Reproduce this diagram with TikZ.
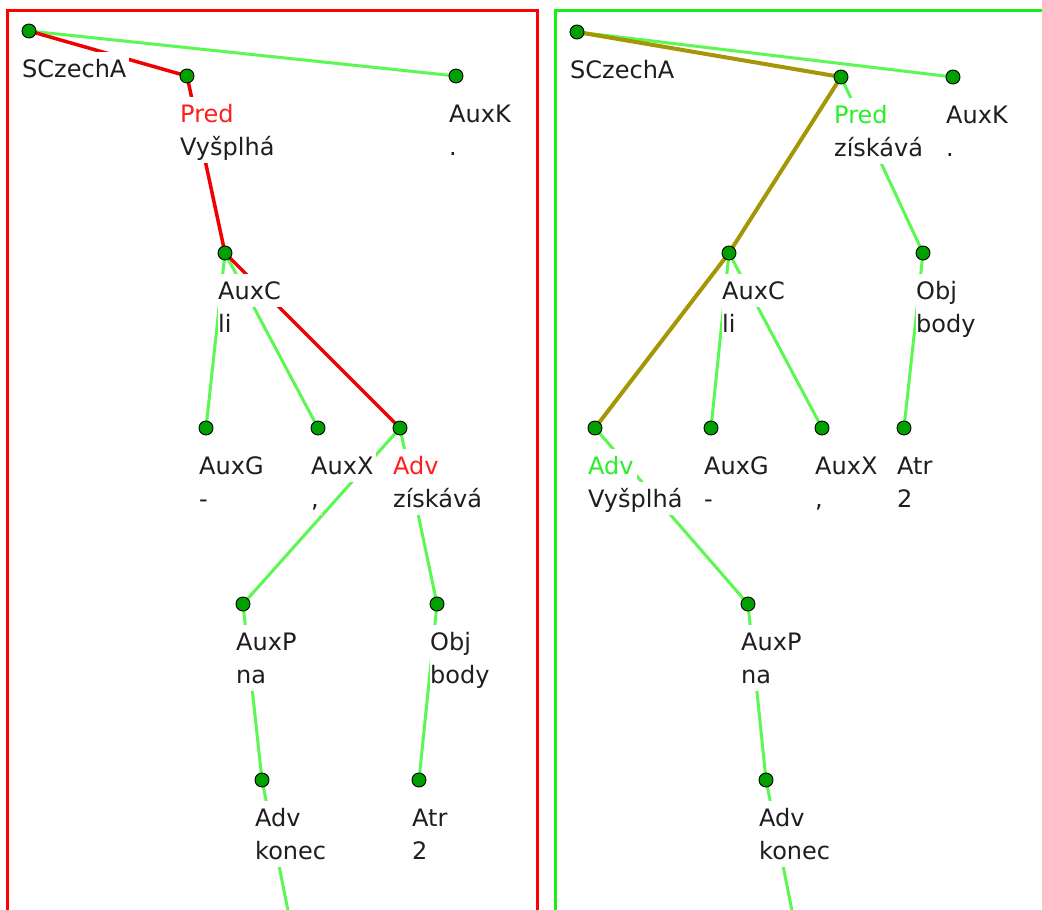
\documentclass[tikz,border=0pt]{standalone}
\usepackage{fontspec}
\setmainfont{DejaVu Sans}
\usetikzlibrary{backgrounds}

\definecolor{edgegreen}{RGB}{90,248,80}
\definecolor{edgered}{RGB}{240,0,0}
\definecolor{edgeolive}{RGB}{165,150,5}
\definecolor{dotgreen}{RGB}{0,160,0}
\definecolor{ink}{RGB}{30,30,30}
\definecolor{labred}{RGB}{255,30,30}
\definecolor{labgreen}{RGB}{40,240,40}
\definecolor{framered}{RGB}{255,0,0}
\definecolor{framegreen}{RGB}{20,240,20}

\pgfdeclarelayer{canvas}
\pgfsetlayers{canvas,background,main}

\tikzset{
  dot/.style={circle, fill=dotgreen, draw=black, line width=0.9pt, minimum size=14pt, inner sep=0pt},
  lab/.style={fill=white, text=ink, anchor=base west, inner xsep=0.5pt, inner ysep=0pt,
    text height=25pt, text depth=8pt, font=\fontsize{24}{33}\selectfont},
  plain/.style={draw=edgegreen, line width=3pt},
  hired/.style={draw=edgered, line width=3.5pt},
  hiolive/.style={draw=edgeolive, line width=4pt},
}

% a tree node: name, x, y, colour of function label, function label, word form
\newcommand\tnode[6]{%
  \node[dot] (#1) at (#2,#3) {};
  \node[lab, text=#4] (#1-fn) at (#2-7.5,#3+46) {#5\kern2.5pt};
  \node[lab] (#1-wf) at (#2-7.5,#3+79) {#6\kern2.5pt};
}
% the root carries a single label
\newcommand\troot[4]{%
  \node[dot] (#1) at (#2,#3) {};
  \node[lab] (#1-fn) at (#2-7.5,#3+46) {#4\kern2.5pt};
}

\begin{document}
\begin{tikzpicture}[x=1pt, y=-1pt]
  \useasboundingbox (0,0) rectangle (1042,910);
  \clip (0,0) rectangle (1042,910);
  \begin{pgfonlayer}{canvas}
    \fill[white] (0,0) rectangle (1042,910);
  \end{pgfonlayer}

  % ---- left tree ----
  \troot{La}{29}{31}{SCzechA}
  \tnode{Lpred}{187}{76}{labred}{Pred}{Vyšplhá}
  \tnode{Lauxk}{456}{76}{ink}{AuxK}{.}
  \tnode{Lauxc}{225}{253}{ink}{AuxC}{li}
  \tnode{Lauxg}{206}{428}{ink}{AuxG}{-}
  \tnode{Lauxx}{318}{428}{ink}{AuxX}{,}
  \tnode{Ladv}{400}{428}{labred}{Adv}{získává}
  \tnode{Lauxp}{243}{604}{ink}{AuxP}{na}
  \tnode{Lobj}{437}{604}{ink}{Obj}{body}
  \tnode{Lkon}{262}{780}{ink}{Adv}{konec}
  \tnode{Latr}{419}{780}{ink}{Atr}{2}
  \coordinate (Lnext) at (297,956);

  % ---- right tree ----
  \troot{Ra}{577}{32}{SCzechA}
  \tnode{Rpred}{841}{77}{labgreen}{Pred}{získává}
  \tnode{Rauxk}{953}{77}{ink}{AuxK}{.}
  \tnode{Rauxc}{729}{253}{ink}{AuxC}{li}
  \tnode{Robj}{923}{253}{ink}{Obj}{body}
  \tnode{Radv}{595}{428}{labgreen}{Adv}{Vyšplhá}
  \tnode{Rauxg}{711}{428}{ink}{AuxG}{-}
  \tnode{Rauxx}{822}{428}{ink}{AuxX}{,}
  \tnode{Ratr}{904}{428}{ink}{Atr}{2}
  \tnode{Rauxp}{748}{604}{ink}{AuxP}{na}
  \tnode{Rkon}{766}{780}{ink}{Adv}{konec}
  \coordinate (Rnext) at (801,956);

  \begin{pgfonlayer}{background}
    % left tree edges
    \draw[plain] (La.center) -- (Lauxk.center);
    \draw[hired] (La.center) -- (Lpred.center);
    \draw[hired] (Lpred.center) -- (Lauxc.center);
    \draw[plain] (Lauxc.center) -- (Lauxg.center);
    \draw[plain] (Lauxc.center) -- (Lauxx.center);
    \draw[hired] (Lauxc.center) -- (Ladv.center);
    \draw[plain] (Ladv.center) -- (Lauxp.center);
    \draw[plain] (Ladv.center) -- (Lobj.center);
    \draw[plain] (Lauxp.center) -- (Lkon.center);
    \draw[plain] (Lobj.center) -- (Latr.center);
    \draw[plain] (Lkon.center) -- (Lnext);
    % right tree edges
    \draw[plain] (Ra.center) -- (Rauxk.center);
    \draw[hiolive] (Ra.center) -- (Rpred.center);
    \draw[hiolive] (Rpred.center) -- (Rauxc.center);
    \draw[hiolive] (Rauxc.center) -- (Radv.center);
    \draw[plain] (Rpred.center) -- (Robj.center);
    \draw[plain] (Rauxc.center) -- (Rauxg.center);
    \draw[plain] (Rauxc.center) -- (Rauxx.center);
    \draw[plain] (Robj.center) -- (Ratr.center);
    \draw[plain] (Radv.center) -- (Rauxp.center);
    \draw[plain] (Rauxp.center) -- (Rkon.center);
    \draw[plain] (Rkon.center) -- (Rnext);
  \end{pgfonlayer}

  % panel frames
  \draw[framered, line width=3pt] (7.5,930) -- (7.5,10.5) -- (537.5,10.5) -- (537.5,930);
  \draw[framegreen, line width=3pt] (555.5,930) -- (555.5,10.5) -- (1060,10.5);
\end{tikzpicture}
\end{document}
